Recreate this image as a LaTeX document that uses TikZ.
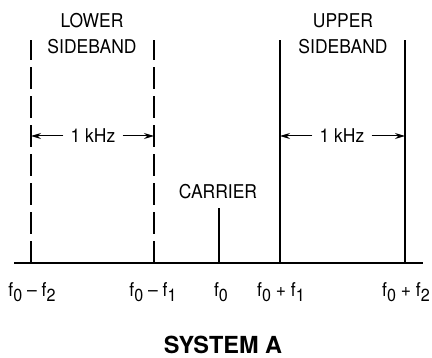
\documentclass[tikz,border=0pt]{standalone}
\usepackage{fontspec}
\setmainfont{TeX Gyre Heros}[FakeStretch=0.92]
\newfontfamily\sysfont{TeX Gyre Heros}
\usetikzlibrary{arrows.meta}
\newcommand{\fsub}[1]{f\raisebox{-0.45ex}{\fontsize{17.5}{17.5}\selectfont #1}}

\begin{document}
\begin{tikzpicture}[x=1pt,y=-1pt,
    lbl/.style={font=\fontsize{19}{21}\selectfont,inner sep=0pt},
    band/.style={line width=1.6pt},
    gapline/.style={line width=1.6pt,dash pattern=on 22pt off 7pt},
    span/.style={line width=1pt,shorten <=7pt,-{Stealth[length=10pt,width=6pt]}}]
  \useasboundingbox (0,0) rectangle (432,358);
  % frequency axis
  \coordinate (L) at (14,263);
  \coordinate (R) at (423,263);
  \draw[band] (L) -- (R);
  \coordinate (A) at (31,263);
  \coordinate (B) at (154,263);
  \coordinate (C) at (219,263);
  \coordinate (D) at (280,263);
  \coordinate (E) at (405,263);
  \coordinate (At) at (31,40);
  \coordinate (Bt) at (154,40);
  \coordinate (Ct) at (219,208);
  \coordinate (Dt) at (280,40);
  \coordinate (Et) at (405,40);
  \draw[gapline] (A) -- (At);
  \draw[gapline] (B) -- (Bt);
  \draw[band] (C) -- (Ct);
  \draw[band] (D) -- (Dt);
  \draw[band] (E) -- (Et);
  % band labels
  \node[lbl] (lw1) at (92,21) {LOWER};
  \node[lbl] (lw2) at (92,47) {SIDEBAND};
  \node[lbl] (up1) at (343,21) {UPPER};
  \node[lbl] (up2) at (343,47) {SIDEBAND};
  \node[lbl] (car) at (218,192) {CARRIER};
  % widths
  \node[lbl] (lk) at (93,136) {1 kHz};
  \node[lbl] (uk) at (342,136) {1 kHz};
  \draw[span] (lk.west) -- (At |- lk);
  \draw[span] (lk.east) -- (Bt |- lk);
  \draw[span] (uk.west) -- (Dt |- uk);
  \draw[span] (uk.east) -- (Et |- uk);
  % axis labels
  \node[lbl] (fa) at (32,292) {\fsub{0} – \fsub{2}};
  \node[lbl] (fb) at (153,292) {\fsub{0} – \fsub{1}};
  \node[lbl] (fc) at (221,292) {\fsub{0}};
  \node[lbl] (fd) at (281,292) {\fsub{0} + \fsub{1}};
  \node[lbl] (fe) at (406,292) {\fsub{0} + \fsub{2}};
  \node[lbl,font=\sysfont\fontsize{23.5}{25}\selectfont\bfseries] (sys) at (223,345) {SYSTEM A};
\end{tikzpicture}
\end{document}
